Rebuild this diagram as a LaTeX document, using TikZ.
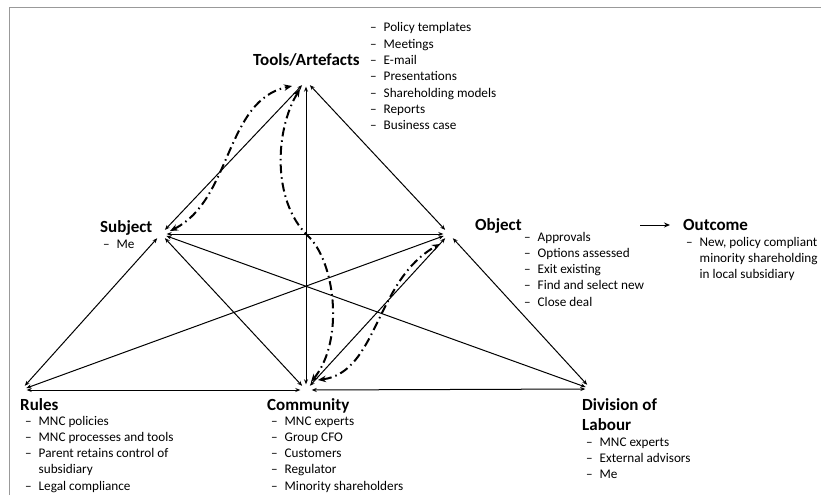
\documentclass[tikz,border=0pt]{standalone}
\usepackage{fontspec}
\setmainfont{Carlito}
\usetikzlibrary{arrows.meta}
\newcommand\itm{\makebox[13.5pt][l]{–}}
\newcommand\cnt{\hspace*{13.5pt}}
\newcommand\lst[1]{\begin{tabular}[t]{@{}l@{}}#1\end{tabular}}
\begin{document}
\begin{tikzpicture}[x=1pt,y=-1pt,
  pt/.style={circle,minimum size=11pt,inner sep=0pt},
  link/.style={{Stealth[length=5pt,width=4pt]}-{Stealth[length=5pt,width=4pt]},line width=1pt},
  flow/.style={{Stealth[length=8pt,width=6.5pt]}-{Stealth[length=8pt,width=6.5pt]},line width=2pt,
    dash pattern=on 9pt off 4pt on 1.5pt off 4pt},
  heading/.style={anchor=base west,inner sep=0pt,font=\fontsize{17}{20}\selectfont\bfseries},
  items/.style={anchor=base west,inner sep=0pt,font=\fontsize{13.2}{16.3}\selectfont}]
\useasboundingbox (0,0) rectangle (821,495);
\fill[white] (0,0) rectangle (821,495);
% frame
\draw[black!40,line width=0.8pt] (9,495) -- (9,7) -- (821,7);

% activity system corners
\node[pt] (T) at (306,81) {};
\node[pt] (S) at (161,234) {};
\node[pt] (O) at (449,234) {};
\node[pt] (R) at (21,390) {};
\node[pt] (C) at (306,390) {};
\node[pt] (D) at (591,389) {};

% relations
\draw[link] (S) -- (T);
\draw[link] (T) -- (O);
\draw[link] (S) -- (O);
\draw[link] (T) -- (C);
\draw[link] (S) -- (R);
\draw[link] (S) -- (C);
\draw[link] (S) -- (D);
\draw[link] (O) -- (R);
\draw[link] (O) -- (C);
\draw[link] (O) -- (D);
\draw[link] (R) -- (C);
\draw[link] (C) -- (D);

% mediation flows
\coordinate (f1a) at (170,231);
\coordinate (f1b) at (292,86);
\coordinate (f2a) at (300,89);
\coordinate (f2m) at (307,235);
\coordinate (f2b) at (311,382);
\coordinate (f3a) at (318,380);
\coordinate (f3b) at (440,244);
\draw[flow] (f1a) .. controls (232,200) and (225,100) .. (f1b);
\draw[flow] (f2a) .. controls (275,130) and (272,200) .. (f2m)
                  .. controls (335,260) and (345,340) .. (f2b);
\draw[flow] (f3a) .. controls (378,372) and (375,280) .. (f3b);

% outcome arrow
\coordinate (oa) at (640,225);
\coordinate (ob) at (670,225);
\draw[-{Stealth[length=6pt,width=5pt]},line width=1pt] (oa) -- (ob);

% labels
\node[heading] (tT) at (253,65.5) {Tools/Artefacts};
\node[items] (lT) at (370,32) {\lst{\itm Policy templates\\\itm Meetings\\\itm E-mail\\\itm Presentations\\\itm Shareholding models\\\itm Reports\\\itm Business case}};

\node[heading] (tS) at (100,232.5) {Subject};
\node[items] (lS) at (103,248) {\itm Me};

\node[heading] (tO) at (475,230.5) {Object};
\node[items] (lO) at (524,241) {\lst{\itm Approvals\\\itm Options assessed\\\itm Exit existing\\\itm Find and select new\\\itm Close deal}};

\node[heading] (tOut) at (683,230.5) {Outcome};
\node[items] (lOut) at (686,246) {\lst{\itm New, policy compliant\\\cnt minority shareholding\\\cnt in local subsidiary}};

\node[heading] (tR) at (20,410.5) {Rules};
\node[items] (lR) at (25,425) {\lst{\itm MNC policies\\\itm MNC processes and tools\\\itm Parent retains control of\\\cnt subsidiary\\\itm Legal compliance}};

\node[heading] (tC) at (267,410.5) {Community};
\node[items] (lC) at (271,425) {\lst{\itm MNC experts\\\itm Group CFO\\\itm Customers\\\itm Regulator\\\itm Minority shareholders}};

\node[heading] (tD) at (582,410.5) {\lst{Division of\\Labour}};
\node[items] (lD) at (586,446) {\lst{\itm MNC experts\\\itm External advisors\\\itm Me}};
\end{tikzpicture}
\end{document}
